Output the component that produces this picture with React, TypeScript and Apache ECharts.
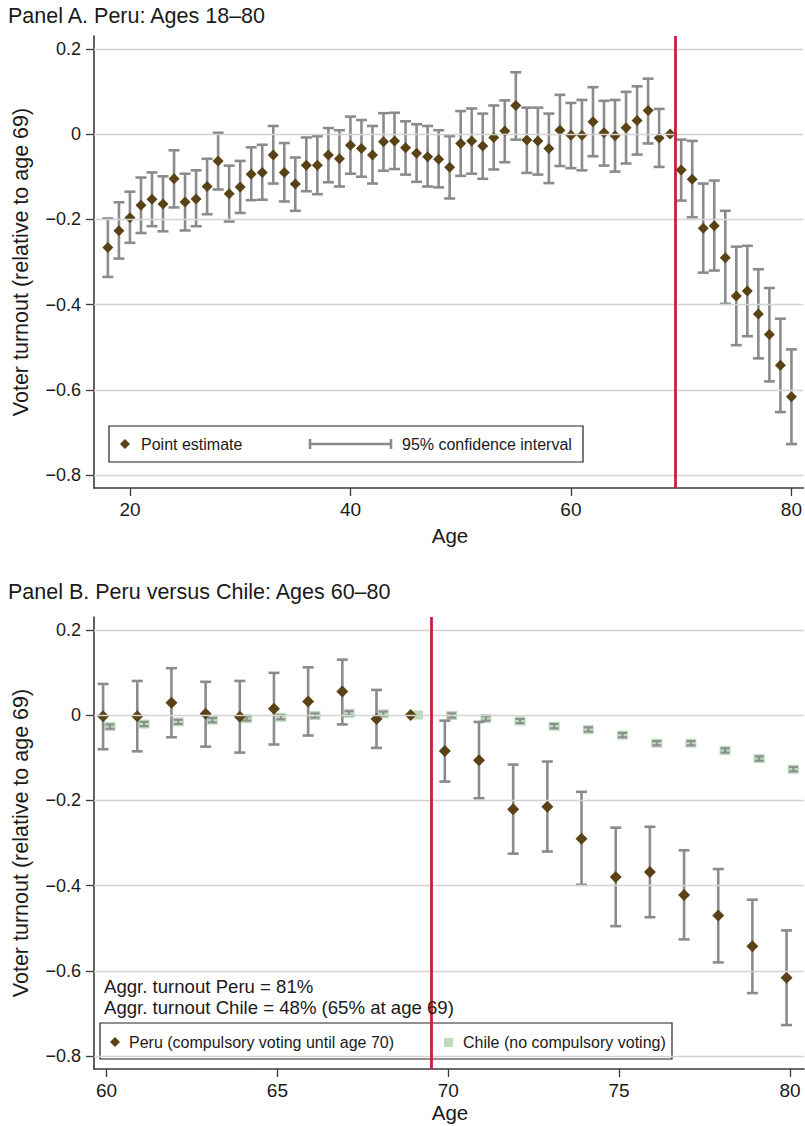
import React, { useEffect, useRef } from 'react';
import * as echarts from 'echarts';

// ---------------- DATA ----------------
const peruAges = [18, 19, 20, 21, 22, 23, 24, 25, 26, 27, 28, 29, 30, 31, 32, 33, 34, 35, 36, 37, 38, 39, 40, 41, 42, 43, 44, 45, 46, 47, 48, 49, 50, 51, 52, 53, 54, 55, 56, 57, 58, 59, 60, 61, 62, 63, 64, 65, 66, 67, 68, 69, 70, 71, 72, 73, 74, 75, 76, 77, 78, 79, 80];
const peruEst = [-0.266, -0.227, -0.196, -0.167, -0.153, -0.164, -0.105, -0.159, -0.152, -0.123, -0.063, -0.140, -0.124, -0.094, -0.090, -0.049, -0.090, -0.117, -0.073, -0.073, -0.049, -0.058, -0.026, -0.034, -0.049, -0.018, -0.016, -0.032, -0.045, -0.053, -0.059, -0.078, -0.022, -0.016, -0.028, -0.008, 0.007, 0.067, -0.014, -0.016, -0.034, 0.009, -0.003, -0.003, 0.029, 0.003, -0.004, 0.015, 0.032, 0.055, -0.009, 0.0, -0.084, -0.106, -0.221, -0.215, -0.290, -0.380, -0.368, -0.422, -0.470, -0.542, -0.616];
const peruHi = [-0.198, -0.160, -0.135, -0.102, -0.090, -0.099, -0.038, -0.093, -0.085, -0.058, 0.003, -0.074, -0.063, -0.031, -0.025, 0.019, -0.021, -0.055, -0.008, -0.005, 0.014, 0.009, 0.041, 0.033, 0.019, 0.049, 0.050, 0.030, 0.023, 0.019, 0.009, -0.005, 0.054, 0.060, 0.048, 0.067, 0.079, 0.145, 0.062, 0.062, 0.048, 0.092, 0.073, 0.080, 0.110, 0.078, 0.080, 0.099, 0.112, 0.130, 0.059, null, -0.013, -0.016, -0.116, -0.109, -0.180, -0.264, -0.262, -0.317, -0.361, -0.433, -0.505];
const peruLo = [-0.335, -0.292, -0.255, -0.232, -0.216, -0.228, -0.172, -0.226, -0.216, -0.188, -0.130, -0.205, -0.185, -0.155, -0.154, -0.116, -0.158, -0.180, -0.134, -0.141, -0.113, -0.123, -0.093, -0.100, -0.116, -0.086, -0.082, -0.095, -0.112, -0.123, -0.125, -0.151, -0.098, -0.093, -0.105, -0.083, -0.066, -0.013, -0.091, -0.095, -0.115, -0.075, -0.080, -0.085, -0.052, -0.074, -0.088, -0.069, -0.048, -0.022, -0.077, null, -0.156, -0.195, -0.325, -0.320, -0.398, -0.495, -0.474, -0.526, -0.580, -0.652, -0.727];

const chileAges = [60, 61, 62, 63, 64, 65, 66, 67, 68, 69, 70, 71, 72, 73, 74, 75, 76, 77, 78, 79, 80];
const chileEst = [-0.027, -0.021, -0.016, -0.012, -0.008, -0.005, -0.001, 0.004, 0.003, 0.0, -0.001, -0.008, -0.014, -0.026, -0.034, -0.047, -0.066, -0.066, -0.083, -0.102, -0.127];
const chileHi = [-0.022, -0.016, -0.011, -0.007, -0.003, 0.000, 0.004, 0.009, 0.008, null, 0.004, -0.003, -0.009, -0.021, -0.029, -0.042, -0.061, -0.061, -0.078, -0.097, -0.122];
const chileLo = [-0.032, -0.026, -0.021, -0.017, -0.013, -0.010, -0.006, -0.001, -0.002, null, -0.006, -0.013, -0.019, -0.031, -0.039, -0.052, -0.071, -0.071, -0.088, -0.107, -0.132];

const yTicks = [-0.8, -0.6, -0.4, -0.2, 0, 0.2];
const xTicksA = [20, 40, 60, 80];
const xTicksB = [60, 65, 70, 75, 80];
const cutoffAge = 69.5;

// ---------------- STYLE ----------------
const GREY = '#8b8b8d';
const BROWN = '#5a4217';
const RED = '#c8203c';
const GREEN = '#bcdcbc';
const AXIS = '#3a3a3a';
const GRIDC = '#d3d3d3';
const TEXT = '#1a1a1a';
const FONT = '"Liberation Sans", Arial, Helvetica, sans-serif';

function capRender(capW: number, lw: number) {
  return (params: any, api: any) => {
    const x = api.value(0);
    const lo = api.value(1);
    const hi = api.value(2);
    const t = api.coord([x, hi]);
    const b = api.coord([x, lo]);
    const st = { stroke: GREY, lineWidth: lw, fill: null };
    const h = capW / 2;
    return {
      type: 'group',
      children: [
        { type: 'line', shape: { x1: t[0], y1: t[1], x2: b[0], y2: b[1] }, style: st },
        { type: 'line', shape: { x1: t[0] - h, y1: t[1], x2: t[0] + h, y2: t[1] }, style: st },
        { type: 'line', shape: { x1: b[0] - h, y1: b[1], x2: b[0] + h, y2: b[1] }, style: st },
      ],
    };
  };
}

const fmtY = (v: number) => {
  if (Math.abs(v) < 1e-9) return '0';
  return (v < 0 ? '\u2212' : '') + Math.abs(v).toFixed(1);
};

function xAxisCfg(gi: number, min: number, max: number, ticks: number[]) {
  return {
    type: 'value', gridIndex: gi, min, max,
    axisLine: { show: true, onZero: false, lineStyle: { color: AXIS, width: 1.6 } },
    axisTick: { show: true, length: 8, customValues: ticks, lineStyle: { color: AXIS, width: 1.3 } },
    axisLabel: { customValues: ticks, fontSize: 19, color: TEXT, margin: 12, fontFamily: FONT },
    splitLine: { show: false },
  };
}
function yAxisCfg(gi: number) {
  return {
    type: 'value', gridIndex: gi, min: -0.83, max: 0.23,
    axisLine: { show: true, onZero: false, lineStyle: { color: AXIS, width: 1.6 } },
    axisTick: { show: true, length: 8, customValues: yTicks, lineStyle: { color: AXIS, width: 1.3 } },
    axisLabel: { customValues: yTicks, fontSize: 18, color: TEXT, margin: 13, fontFamily: FONT, formatter: fmtY },
    splitLine: { show: false },
  };
}

function helperSeries(gi: number) {
  return [
    {
      type: 'scatter', xAxisIndex: gi, yAxisIndex: gi, data: [], z: 1, silent: true,
      markLine: {
        silent: true, symbol: ['none', 'none'], label: { show: false },
        lineStyle: { color: GRIDC, width: 1.3, type: 'solid' },
        data: yTicks.map((v) => ({ yAxis: v })),
      },
    },
    {
      type: 'scatter', xAxisIndex: gi, yAxisIndex: gi, data: [], z: 10, silent: true,
      markLine: {
        silent: true, symbol: ['none', 'none'], label: { show: false }, z: 10,
        lineStyle: { color: RED, width: 2.8, type: 'solid' },
        data: [{ xAxis: cutoffAge }],
      },
    },
  ];
}

export default function App() {
  const ref = useRef<HTMLDivElement>(null);
  useEffect(() => {
    document.body.style.margin = '0';
    const chart = echarts.init(ref.current!, null, { renderer: 'svg' });

    const ciA: any[] = [];
    const ptA: any[] = [];
    const ciBPeru: any[] = [];
    const ptBPeru: any[] = [];
    peruAges.forEach((a, i) => {
      ptA.push([a, peruEst[i]]);
      if (peruLo[i] !== null && peruHi[i] !== null) ciA.push([a, peruLo[i], peruHi[i]]);
      if (a >= 60) {
        ptBPeru.push([a - 0.1, peruEst[i]]);
        if (peruLo[i] !== null && peruHi[i] !== null) ciBPeru.push([a - 0.1, peruLo[i], peruHi[i]]);
      }
    });
    const ptChile: any[] = [];
    const ciChile: any[] = [];
    chileAges.forEach((a, i) => {
      ptChile.push([a + 0.1, chileEst[i]]);
      if (chileLo[i] !== null && chileHi[i] !== null) ciChile.push([a + 0.1, chileLo[i], chileHi[i]]);
    });

    const txt = (text: string, x: number, y: number, size: number, extra: any = {}) => ({
      type: 'text', x, y, z: 20,
      style: { text, fontSize: size, fontFamily: FONT, fill: TEXT, verticalAlign: 'middle', align: 'left', ...extra.style },
      ...extra.el,
    });

    const graphic: any[] = [
      txt('Panel A. Peru: Ages 18\u201380', 8, 16, 21.5),
      txt('Panel B. Peru versus Chile: Ages 60\u201380', 8, 592, 21.5),
      txt('Voter turnout (relative to age 69)', 21, 262, 21.5, { style: { align: 'center' }, el: { rotation: Math.PI / 2 } }),
      txt('Voter turnout (relative to age 69)', 21, 843, 21.5, { style: { align: 'center' }, el: { rotation: Math.PI / 2 } }),
      txt('Age', 450, 535, 20.5, { style: { align: 'center' } }),
      txt('Age', 450, 1112, 20.5, { style: { align: 'center' } }),
      // Panel A legend
      { type: 'rect', z: 5, shape: { x: 109, y: 426, width: 474, height: 36 }, style: { fill: '#fff', stroke: '#222', lineWidth: 1.2 } },
      { type: 'polygon', z: 6, shape: { points: [[125, 439], [130, 444], [125, 449], [120, 444]] }, style: { fill: BROWN } },
      txt('Point estimate', 141, 444, 16),
      { type: 'line', z: 6, shape: { x1: 310, y1: 444, x2: 391, y2: 444 }, style: { stroke: GREY, lineWidth: 2.6 } },
      { type: 'line', z: 6, shape: { x1: 310, y1: 439, x2: 310, y2: 449 }, style: { stroke: GREY, lineWidth: 2.6 } },
      { type: 'line', z: 6, shape: { x1: 391, y1: 439, x2: 391, y2: 449 }, style: { stroke: GREY, lineWidth: 2.6 } },
      txt('95% confidence interval', 402, 444, 16),
      // Panel B annotations
      txt('Aggr. turnout Peru = 81%', 104, 986, 18.6),
      txt('Aggr. turnout Chile = 48% (65% at age 69)', 104, 1007, 18.6),
      // Panel B legend
      { type: 'rect', z: 5, shape: { x: 100, y: 1023, width: 572, height: 36 }, style: { fill: '#fff', stroke: '#222', lineWidth: 1.2 } },
      { type: 'polygon', z: 6, shape: { points: [[115, 1037], [120, 1042], [115, 1047], [110, 1042]] }, style: { fill: BROWN } },
      txt('Peru (compulsory voting until age 70)', 129, 1042, 16),
      { type: 'rect', z: 6, shape: { x: 444, y: 1038, width: 9, height: 9 }, style: { fill: GREEN } },
      txt('Chile (no compulsory voting)', 463, 1042, 16),
    ];

    const option: any = {
      animation: false,
      backgroundColor: '#fff',
      textStyle: { fontFamily: FONT },
      grid: [
        { left: 94, right: 0, top: 36, height: 452 },
        { left: 94, right: 1, top: 617, height: 452 },
      ],
      xAxis: [xAxisCfg(0, 16.74, 81.08, xTicksA), xAxisCfg(1, 59.634, 80.41, xTicksB)],
      yAxis: [yAxisCfg(0), yAxisCfg(1)],
      graphic,
      series: [
        ...helperSeries(0),
        ...helperSeries(1),
        {
          type: 'custom', xAxisIndex: 0, yAxisIndex: 0, z: 3, data: ciA,
          encode: { x: 0, y: [1, 2] }, renderItem: capRender(11, 2.6),
        },
        {
          type: 'scatter', xAxisIndex: 0, yAxisIndex: 0, z: 4, data: ptA,
          symbol: 'diamond', symbolSize: 11, itemStyle: { color: BROWN, opacity: 1 },
        },
        {
          type: 'scatter', xAxisIndex: 1, yAxisIndex: 1, z: 2, data: ptChile,
          symbol: 'rect', symbolSize: [11, 9], itemStyle: { color: GREEN, opacity: 1 },
        },
        {
          type: 'custom', xAxisIndex: 1, yAxisIndex: 1, z: 3, data: ciChile,
          encode: { x: 0, y: [1, 2] }, renderItem: capRender(9, 2),
        },
        {
          type: 'custom', xAxisIndex: 1, yAxisIndex: 1, z: 3, data: ciBPeru,
          encode: { x: 0, y: [1, 2] }, renderItem: capRender(11, 2.6),
        },
        {
          type: 'scatter', xAxisIndex: 1, yAxisIndex: 1, z: 4, data: ptBPeru,
          symbol: 'diamond', symbolSize: 12, itemStyle: { color: BROWN, opacity: 1 },
        },
      ],
    };
    chart.setOption(option);
    return () => chart.dispose();
  }, []);
  return <div ref={ref} style={{ width: 805, height: 1126 }} />;
}
